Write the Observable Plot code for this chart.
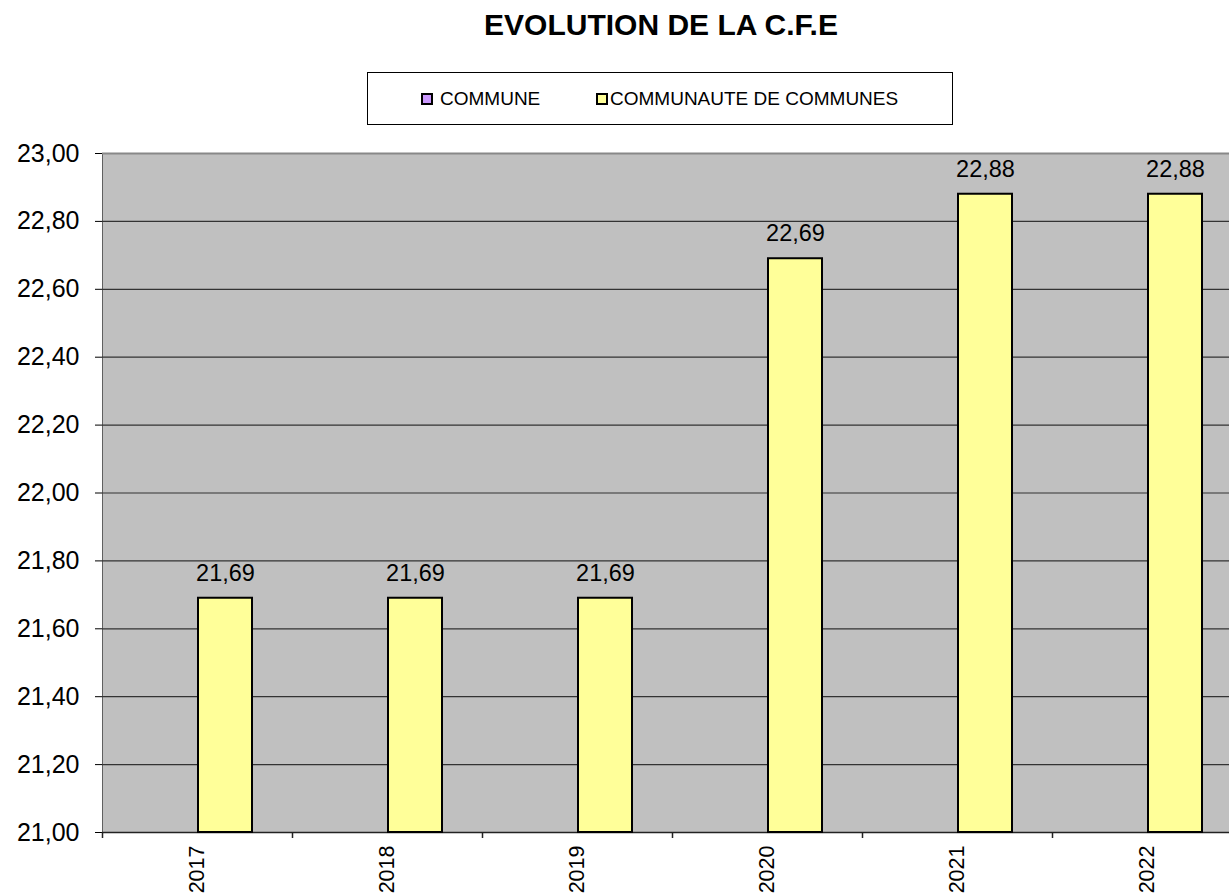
<!DOCTYPE html>
<html>
<head>
<meta charset="utf-8">
<script src="https://cdn.jsdelivr.net/npm/d3@7"></script>
<script src="https://cdn.jsdelivr.net/npm/@observablehq/plot@0.6"></script>
<style>
  html, body { margin: 0; padding: 0; background: #fff; overflow: hidden; }
  #wrap { position: relative; width: 1229px; height: 895px; overflow: hidden; font-family: "Liberation Sans", Arial, sans-serif; }
  #title { position: absolute; left: 0; width: 1322px; top: 10px; text-align: center; font-weight: bold; font-size: 30px; line-height: 29px; color: #000; }
  #legend { position: absolute; left: 367px; top: 72px; width: 584px; height: 51px; border: 1px solid #000; background: #fff; }
  .item { position: absolute; top: 0; height: 51px; display: flex; align-items: center; font-size: 19px; color: #000; }
  .sw { width: 8px; height: 8px; border: 2px solid #000; }
  #chart { position: absolute; left: 0; top: 140px; width: 1242px; }
  #chart svg { max-width: none !important; }
  #chart g[aria-label^="x-axis"] text { font-size: 21.5px; }
</style>
</head>
<body>
<div id="wrap">
  <div id="title"></div>
  <div id="legend"></div>
  <div id="chart"></div>
</div>
<script>
const chartTitle = "EVOLUTION DE LA C.F.E";
const years = ["2017", "2018", "2019", "2020", "2021", "2022"];
const seriesNames = ["COMMUNE", "COMMUNAUTE DE COMMUNES"];
const seriesColors = ["#CC99FF", "#FFFF99"];
// COMMUNE bars are not visible in the chart (below the axis minimum)
const commune = [null, null, null, null, null, null];
const communaute = [21.69, 21.69, 21.69, 22.69, 22.88, 22.88];
const yTicks = [21.0, 21.2, 21.4, 21.6, 21.8, 22.0, 22.2, 22.4, 22.6, 22.8, 23.0];

const fmt = d => d.toFixed(2).replace(".", ",");

document.getElementById("title").textContent = chartTitle;
const legend = document.getElementById("legend");
const itemLefts = [53, 228];
const itemGaps = [7, 2];
seriesNames.forEach((name, i) => {
  const it = document.createElement("div");
  it.className = "item";
  it.style.left = itemLefts[i] + "px";
  const sw = document.createElement("div");
  sw.className = "sw";
  sw.style.background = seriesColors[i];
  sw.style.marginRight = itemGaps[i] + "px";
  it.appendChild(sw);
  const t = document.createElement("span");
  t.textContent = name;
  it.appendChild(t);
  legend.appendChild(it);
});

const rowsCommune = years.map((year, i) => ({year, value: commune[i]})).filter(d => d.value != null);
const rowsCommunaute = years.map((year, i) => ({year, value: communaute[i]}));

const W = 1242, H = 755, ML = 102, MR = 0, MT = 13, MB = 63;
const step = (W - ML - MR) / years.length;
const yBase = yTicks[0];
const yTop = yTicks[yTicks.length - 1];
// bar placement within each year band (grouped: COMMUNE left, COMMUNAUTE right)
const inset2 = {left: 96, right: 40};
const inset1 = {left: 42, right: 94};

const chart = Plot.plot({
  width: W,
  height: H,
  marginLeft: ML,
  marginRight: MR,
  marginTop: MT,
  marginBottom: MB,
  style: {fontFamily: "'Liberation Sans', Arial, sans-serif", fontSize: "25px", background: "transparent", overflow: "visible", maxWidth: "none"},
  x: {domain: years, padding: 0, tickSize: 0, tickRotate: -90, tickPadding: 13, label: null},
  y: {domain: [yBase, yTop], ticks: yTicks, tickFormat: fmt, tickSize: 7, tickPadding: 16, label: null, line: true},
  marks: [
    Plot.frame({fill: "#C0C0C0", stroke: null}),
    Plot.ruleY(yTicks.filter(t => t < yTop), {stroke: "#333", strokeWidth: 1.2}),
    Plot.ruleY([yTop], {stroke: "#888", strokeWidth: 2}),
    Plot.ruleY([yBase], {stroke: "#222", strokeWidth: 1.5}),
    Plot.ruleX(years, {dx: -step / 2, insetTop: H - MT - MB, insetBottom: -6, stroke: "#222", strokeWidth: 1.5}),
    Plot.barY(rowsCommune, {x: "year", y1: yBase, y2: "value", fill: seriesColors[0], stroke: "#000", strokeWidth: 2, insetLeft: inset1.left, insetRight: inset1.right}),
    Plot.barY(rowsCommunaute, {x: "year", y1: yBase, y2: "value", fill: seriesColors[1], stroke: "#000", strokeWidth: 2, insetLeft: inset2.left, insetRight: inset2.right}),
    Plot.text(rowsCommunaute, {x: "year", y: "value", text: d => fmt(d.value), dx: (inset2.left - inset2.right) / 2, dy: -25, fontSize: 23.5, fill: "#000"})
  ]
});
document.getElementById("chart").appendChild(chart);
</script>
</body>
</html>
